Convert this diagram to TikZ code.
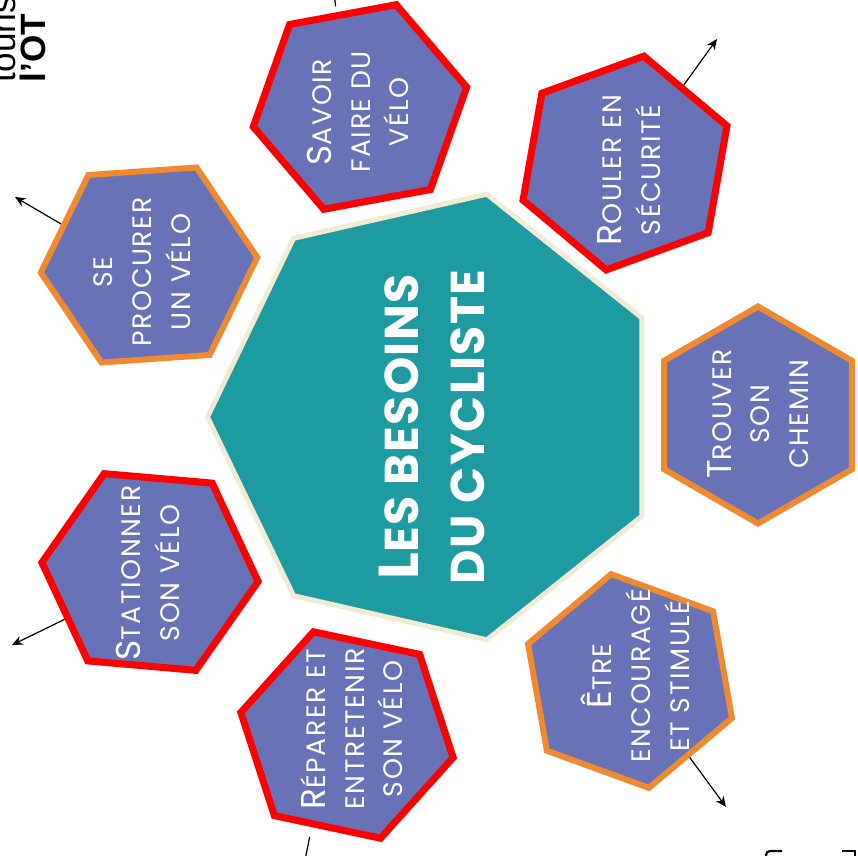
\documentclass[tikz,border=0pt]{standalone}
\usepackage{fontspec}
\setmainfont{Poppins}
\newfontfamily\hexfont[LetterSpace=6]{Poppins}
\newfontfamily\titrefont[LetterSpace=3]{Poppins}
\newfontfamily\otfont{Liberation Sans}
\usetikzlibrary{shapes.geometric,arrows.meta,shadows}

\definecolor{hexfill}{HTML}{6872B6}
\definecolor{tealc}{HTML}{1E9BA0}
\definecolor{creme}{HTML}{F2EBD3}
\definecolor{rouge}{HTML}{FF0000}
\definecolor{orangec}{HTML}{F08A30}

\newcommand\gr[1]{{\fontsize{9.8}{11}\selectfont #1}}

\begin{document}
\begin{tikzpicture}[hexa/.style = {regular polygon, regular polygon sides=6, minimum size=2.17cm, inner sep=0pt, fill=hexfill, drop shadow={opacity=0.25, shadow xshift=0.5pt, shadow yshift=-0.5pt}},
hexred/.style = {hexa, draw=rouge, line width=2pt},
hexorange/.style = {hexa, draw=orangec, line width=1.7pt},
txt/.style = {rotate=90, align=center, text=white, font=\hexfont\fontsize{7.6}{11}\selectfont},
fleche/.style = {-{Stealth[length=3pt,width=2.6pt]}, line width=0.35pt}]
\useasboundingbox (0,0) rectangle (8.58,-8.55);
\clip (0,0) rectangle (8.58,-8.55);

% centre
\node[regular polygon, regular polygon sides=7, shape border rotate=90, minimum size=4.57cm, fill=tealc, draw=creme, line width=1.4pt] (besoins) at (4.36,-4.17) {};
\node[rotate=90, align=center, text=white, font=\titrefont\bfseries\fontsize{13.5}{18.8}\selectfont] (titre) at (4.32,-4.27) {{\fontsize{16}{18.8}\selectfont L}ES BESOINS\\DU CYCLISTE};

% hexagones
\node[hexred, shape border rotate=10.5] (savoir) at (3.60,-1.07) {};
\node[txt] (savoir txt) at (3.58,-1.12) {\gr{S}AVOIR\\FAIRE DU\\VÉLO};

\node[hexred, shape border rotate=20] (rouler) at (6.25,-1.63) {};
\node[txt] (rouler txt) at (6.29,-1.70) {\gr{R}OULER EN\\SÉCURITÉ};

\node[hexorange, shape border rotate=30] (trouver) at (7.58,-4.15) {};
\node[txt] (trouver txt) at (7.58,-4.14) {\gr{T}ROUVER\\SON\\CHEMIN};

\node[hexorange, shape border rotate=40] (etre) at (6.30,-6.81) {};
\node[txt] (etre txt) at (6.35,-6.76) {\gr{Ê}TRE\\ENCOURAGÉ\\ET STIMULÉ};

\node[hexred, shape border rotate=48] (reparer) at (3.47,-7.35) {};
\node[txt] (reparer txt) at (3.52,-7.29) {\gr{R}ÉPARER ET\\ENTRETENIR\\SON VÉLO};

\node[hexred, shape border rotate=55] (stationner) at (1.50,-5.72) {};
\node[txt] (stationner txt) at (1.48,-5.73) {\gr{S}TATIONNER\\SON VÉLO};

\node[hexorange, shape border rotate=4] (procurer) at (1.49,-2.65) {};
\node[txt] (procurer txt) at (1.42,-2.72) {SE\\PROCURER\\UN VÉLO};

% fleches
\coordinate (savoir fin) at (3.33,0.15);
\coordinate (rouler fin) at (7.17,-0.39);
\coordinate (etre fin) at (7.26,-8.07);
\coordinate (reparer fin) at (3.02,-8.75);
\coordinate (stationner fin) at (0.12,-6.45);
\coordinate (procurer fin) at (0.15,-1.97);

\draw[fleche, shorten <=0.6mm] (savoir.104) -- (savoir fin);
\draw[fleche] (rouler.53) -- (rouler fin);
\draw[fleche] (etre.-52) -- (etre fin);
\draw[fleche, shorten <=1mm] (reparer.-111) -- (reparer fin);
\draw[fleche] (stationner.-151) -- (stationner fin);
\draw[fleche] (procurer.155) -- (procurer fin);

% texte coupe en haut a gauche
\node[rotate=90, anchor=base west, inner sep=0pt, font=\otfont\fontsize{10}{12}\selectfont] (touris) at (0.15,-0.83) {touris};
\node[rotate=90, anchor=base west, inner sep=0pt, font=\otfont\bfseries\fontsize{10}{12}\selectfont] (lot) at (0.45,-0.83) {l’OT};

% traits coupes en bas a droite
\draw[line width=0.6pt] (7.66,-8.60) -- (7.66,-8.55) to[out=90,in=180] (7.70,-8.51) -- (7.82,-8.51);
\draw[line width=0.6pt] (8.42,-8.51) -- (8.55,-8.51) -- (8.55,-8.60);
\end{tikzpicture}
\end{document}
